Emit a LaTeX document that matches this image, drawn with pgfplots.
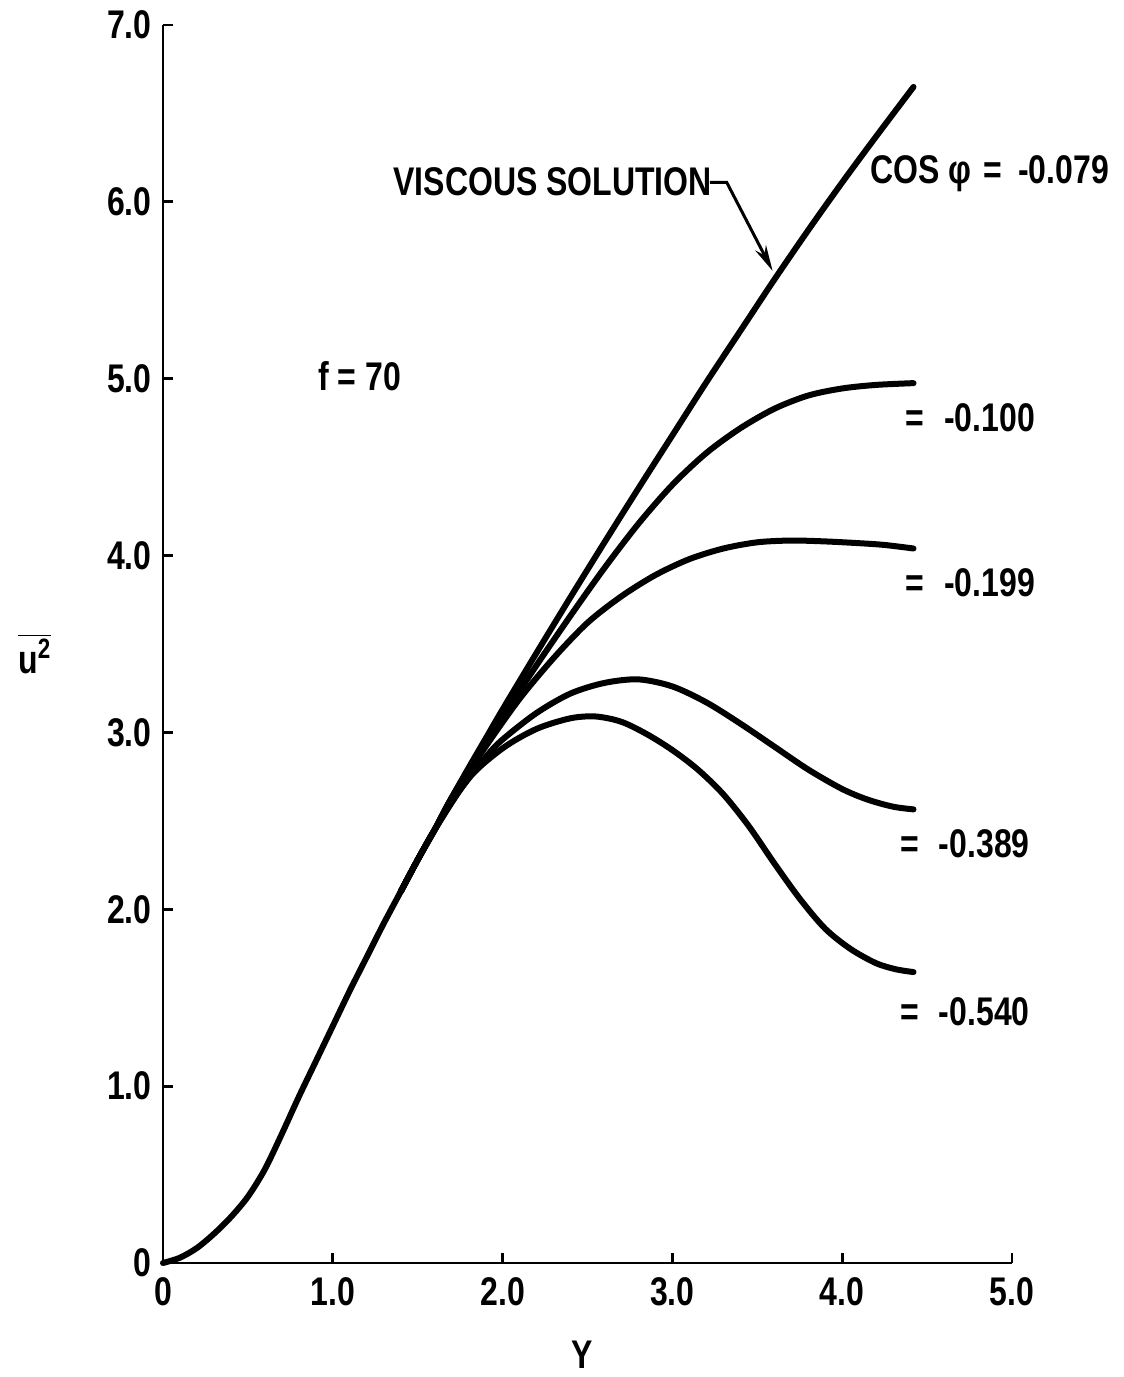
\documentclass[border=0pt]{standalone}
\usepackage{fontspec}
\setmainfont{Liberation Sans}[FakeStretch=0.8]
\usepackage{pgfplots}
\pgfplotsset{compat=1.18}
\usetikzlibrary{arrows.meta}

% Profiles of u^2 against Y, f = 70
\pgfplotstableread{
x y
0.00 0.00
0.10 0.03
0.20 0.085
0.30 0.165
0.40 0.26
0.50 0.375
0.60 0.53
0.70 0.73
0.80 0.94
0.90 1.14
1.00 1.34
1.10 1.54
1.20 1.73
1.30 1.92
1.40 2.10
1.50 2.28
1.60 2.45
1.70 2.63
1.80 2.80
1.90 2.965
2.00 3.13
2.20 3.45
2.40 3.765
2.60 4.075
2.80 4.38
3.00 4.68
3.20 4.98
3.40 5.27
3.60 5.56
3.80 5.84
4.00 6.11
4.20 6.37
4.42 6.65
}\viscous

\pgfplotstableread{
x y
1.40 2.10
1.50 2.28
1.60 2.45
1.70 2.63
1.80 2.79
2.00 3.09
2.20 3.38
2.40 3.66
2.60 3.93
2.80 4.18
3.00 4.40
3.20 4.58
3.40 4.72
3.60 4.83
3.80 4.905
4.00 4.945
4.20 4.965
4.42 4.975
}\cosA

\pgfplotstableread{
x y
1.40 2.10
1.50 2.28
1.60 2.45
1.70 2.63
1.90 2.92
2.10 3.19
2.30 3.42
2.50 3.62
2.70 3.77
2.90 3.89
3.10 3.98
3.30 4.04
3.50 4.075
3.70 4.085
3.90 4.08
4.10 4.07
4.25 4.06
4.42 4.04
}\cosB

\pgfplotstableread{
x y
1.40 2.10
1.50 2.28
1.60 2.45
1.73 2.65
1.90 2.86
2.00 2.96
2.20 3.11
2.40 3.22
2.60 3.28
2.80 3.30
3.00 3.26
3.20 3.17
3.40 3.05
3.60 2.92
3.80 2.79
4.00 2.68
4.15 2.62
4.30 2.58
4.42 2.565
}\cosC

\pgfplotstableread{
x y
1.40 2.10
1.50 2.28
1.60 2.45
1.80 2.74
2.00 2.91
2.20 3.02
2.40 3.08
2.55 3.09
2.70 3.06
2.85 2.99
3.00 2.90
3.15 2.79
3.30 2.65
3.45 2.47
3.60 2.26
3.75 2.06
3.90 1.89
4.05 1.775
4.20 1.695
4.32 1.66
4.42 1.645
}\cosD

\begin{document}
{\fontsize{20}{24}\selectfont\bfseries
\begin{tikzpicture}
\begin{axis}[
  name=ax, at={(0,0)}, anchor=south west,
  scale only axis, width=424.5pt, height=619pt,
  xmin=0, xmax=5, ymin=0, ymax=7,
  axis x line=bottom, axis y line=left,
  axis line style={-, line width=1.4pt, black},
  tick align=inside, major tick length=5pt,
  tick style={line width=1.4pt, black},
  xtick={0,1,2,3,4,5},
  xticklabels={0,1.0,2.0,3.0,4.0,5.0},
  ytick={0,1,2,3,4,5,6,7},
  yticklabels={0,1.0,2.0,3.0,4.0,5.0,6.0,7.0},
  xticklabel style={anchor=north, inner sep=0pt, yshift=-7pt},
  yticklabel style={anchor=east, inner sep=0pt, xshift=-5.5pt},
  clip=false,
  curve/.style={black, line width=3pt, line cap=round, line join=round, smooth, mark=none},
]
\addplot[curve] table[x=x, y=y] {\viscous};
\addplot[curve] table[x=x, y=y] {\cosA};
\addplot[curve] table[x=x, y=y] {\cosB};
\addplot[curve] table[x=x, y=y] {\cosC};
\addplot[curve] table[x=x, y=y] {\cosD};

% leader for the viscous solution
\draw[line width=1.5pt, -{Stealth[length=13pt, width=6pt]}]
  (axis cs:3.22,6.11) -- (axis cs:3.32,6.11) -- (axis cs:3.59,5.61);

\node[anchor=base west, inner sep=0pt] at (axis cs:1.355,6.037) {VISCOUS SOLUTION};
\node[anchor=base west, inner sep=0pt] at (axis cs:4.164,6.105) {COS φ\hspace{6pt}=\hspace{8pt}-0.079};
\node[anchor=base west, inner sep=0pt] at (axis cs:0.913,4.935) {f = 70};
\node[anchor=base west, inner sep=0pt] at (axis cs:4.37,4.70) {=\hspace{10pt}-0.100};
\node[anchor=base west, inner sep=0pt] at (axis cs:4.37,3.77) {=\hspace{10pt}-0.199};
\node[anchor=base west, inner sep=0pt] at (axis cs:4.34,2.29) {=\hspace{10pt}-0.389};
\node[anchor=base west, inner sep=0pt] at (axis cs:4.34,1.345) {=\hspace{10pt}-0.540};

% axis titles
\node[anchor=base west, inner sep=0pt] at (axis cs:-0.854,3.335) {$\overline{\hbox{u\textsuperscript{2}}}$};
\node[anchor=base, inner sep=0pt] at (axis cs:2.47,-0.595) {Y};
\end{axis}
\pgfresetboundingbox
\path (-81.5pt,-57pt) rectangle (480.5pt,631.5pt);
\end{tikzpicture}}
\end{document}
